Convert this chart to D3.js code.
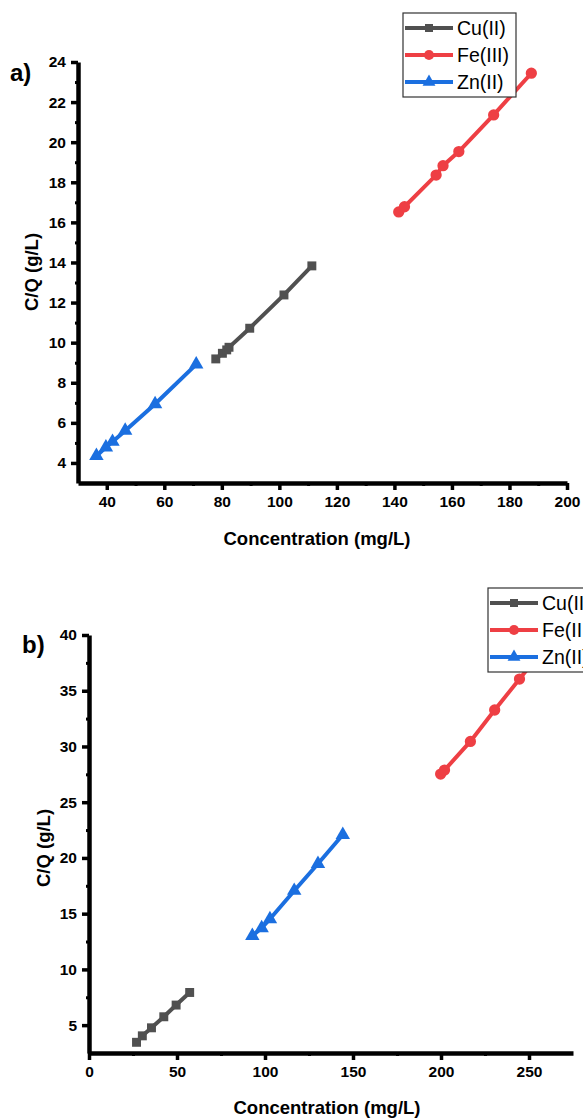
<!DOCTYPE html>
<html>
<head>
<meta charset="utf-8">
<script src="https://cdn.jsdelivr.net/npm/d3@7.9.0/dist/d3.min.js"></script>
<style>
  body { margin: 0; background: #fff; }
  svg { display: block; font-family: "Liberation Sans", Arial, sans-serif; }
</style>
</head>
<body>
<svg id="chart" width="583" height="1120"></svg>
<script>
// series names shared by both panels
const seriesNames = ['Cu(II)', 'Fe(III)', 'Zn(II)'];

// panel a) concentration (mg/L) vs C/Q (g/L)
const cuA = [[77.9, 9.19], [80.2, 9.47], [81.7, 9.64], [82.5, 9.77], [89.7, 10.72], [101.6, 12.38], [111.3, 13.83]];
const feA = [[141.5, 16.52], [143.5, 16.78], [154.5, 18.36], [156.9, 18.83], [162.4, 19.53], [174.5, 21.36], [187.6, 23.44]];
const znA = [[36.4, 4.35], [39.7, 4.78], [42.0, 5.06], [46.4, 5.61], [56.8, 6.94], [71.1, 8.92]];

// panel b)
const cuB = [[27.0, 3.46], [30.3, 4.04], [35.5, 4.76], [42.5, 5.75], [49.5, 6.80], [57.2, 7.93]];
const feB = [[199.8, 27.52], [202.0, 27.88], [216.7, 30.45], [230.5, 33.27], [244.6, 36.05], [259.0, 38.9]];
const znB = [[92.8, 13.02], [98.1, 13.71], [102.8, 14.52], [116.6, 17.06], [130.1, 19.48], [144.2, 22.08]];

// tick values
const xTicksA = [40, 60, 80, 100, 120, 140, 160, 180, 200];
const yTicksA = [4, 6, 8, 10, 12, 14, 16, 18, 20, 22, 24];
const xTicksB = [0, 50, 100, 150, 200, 250];
const yTicksB = [5, 10, 15, 20, 25, 30, 35, 40];

const colors = ['#505050', '#ee3f44', '#1b6fe0'];
const symbols = [d3.symbolSquare, d3.symbolCircle, d3.symbolTriangle];
const symSizes = [80, 100, 90];

const svg = d3.select('#chart');

function drawPanel(p) {
  const g = svg.append('g');
  const x = d3.scaleLinear().domain(p.xDomain).range(p.xRange);
  const y = d3.scaleLinear().domain(p.yDomain).range(p.yRange);

  // minor ticks (no labels)
  g.append('g')
    .attr('transform', `translate(0,${p.yRange[0]})`)
    .call(d3.axisBottom(x).tickValues(p.xMinor).tickSize(3).tickFormat(''))
    .call(a => a.select('.domain').remove())
    .call(a => a.selectAll('line').attr('stroke-width', 3));
  g.append('g')
    .attr('transform', `translate(${p.xRange[0]},0)`)
    .call(d3.axisLeft(y).tickValues(p.yMinor).tickSize(3).tickFormat(''))
    .call(a => a.select('.domain').remove())
    .call(a => a.selectAll('line').attr('stroke-width', 3));

  // major axes
  const xAxis = g.append('g')
    .attr('transform', `translate(0,${p.yRange[0]})`)
    .call(d3.axisBottom(x).tickValues(p.xTicks).tickSize(7).tickPadding(6).tickSizeOuter(0));
  const yAxis = g.append('g')
    .attr('transform', `translate(${p.xRange[0]},0)`)
    .call(d3.axisLeft(y).tickValues(p.yTicks).tickSize(7).tickPadding(5).tickSizeOuter(0));

  [xAxis, yAxis].forEach(a => {
    a.select('.domain').attr('stroke-width', 4.5).attr('stroke', '#000');
    a.selectAll('.tick line').attr('stroke-width', 3.5).attr('stroke', '#000');
    a.selectAll('text')
      .attr('fill', '#000')
      .style('font-size', '15.5px')
      .style('font-weight', 'bold');
  });

  // series
  const line = d3.line().x(d => x(d[0])).y(d => y(d[1]));
  p.series.forEach((s, i) => {
    g.append('path')
      .datum(s)
      .attr('d', line)
      .attr('fill', 'none')
      .attr('stroke', colors[i])
      .attr('stroke-width', 4);
    g.selectAll(null)
      .data(s)
      .join('path')
      .attr('transform', d => `translate(${x(d[0])},${y(d[1])})`)
      .attr('d', d3.symbol().type(symbols[i]).size(symSizes[i]))
      .attr('fill', colors[i]);
  });

  // axis titles
  g.append('text')
    .attr('x', p.xTitle[0]).attr('y', p.xTitle[1])
    .attr('text-anchor', 'middle')
    .style('font-size', '18.5px').style('font-weight', 'bold')
    .text('Concentration (mg/L)');
  g.append('text')
    .attr('transform', `translate(${p.yTitle[0]},${p.yTitle[1]}) rotate(-90)`)
    .attr('text-anchor', 'middle')
    .style('font-size', '18.5px').style('font-weight', 'bold')
    .text('C/Q (g/L)');

  // panel letter
  g.append('text')
    .attr('x', p.letterPos[0]).attr('y', p.letterPos[1])
    .style('font-size', '24px').style('font-weight', 'bold')
    .text(p.letter);

  // legend
  const lg = g.append('g').attr('transform', `translate(${p.legend[0]},${p.legend[1]})`);
  lg.append('rect')
    .attr('width', 113).attr('height', 84)
    .attr('fill', '#fff').attr('stroke', '#333').attr('stroke-width', 1.2);
  seriesNames.forEach((name, i) => {
    const cy = 15 + i * 27;
    lg.append('line')
      .attr('x1', 2).attr('x2', 50).attr('y1', cy).attr('y2', cy)
      .attr('stroke', colors[i]).attr('stroke-width', 4);
    lg.append('path')
      .attr('transform', `translate(26,${cy})`)
      .attr('d', d3.symbol().type(symbols[i]).size(symSizes[i] * 0.8))
      .attr('fill', colors[i]);
    lg.append('text')
      .attr('x', 54).attr('y', cy + 7)
      .style('font-size', '19.5px')
      .text(name);
  });
}

drawPanel({
  xDomain: [30, 200], xRange: [78, 567],
  yDomain: [3, 24], yRange: [483, 62],
  xTicks: xTicksA, yTicks: yTicksA,
  xMinor: [50, 70, 90, 110, 130, 150, 170, 190],
  yMinor: [5, 7, 9, 11, 13, 15, 17, 19, 21, 23],
  series: [cuA, feA, znA],
  xTitle: [317, 545], yTitle: [38, 272],
  letter: 'a)', letterPos: [10, 81],
  legend: [403, 13]
});

drawPanel({
  xDomain: [0, 275], xRange: [89, 573],
  yDomain: [2.5, 40], yRange: [1053, 635],
  xTicks: xTicksB, yTicks: yTicksB,
  xMinor: [25, 75, 125, 175, 225],
  yMinor: [7.5, 12.5, 17.5, 22.5, 27.5, 32.5, 37.5],
  series: [cuB, feB, znB],
  xTitle: [327, 1114], yTitle: [50, 848],
  letter: 'b)', letterPos: [22, 653],
  legend: [488, 588]
});
</script>
</body>
</html>
